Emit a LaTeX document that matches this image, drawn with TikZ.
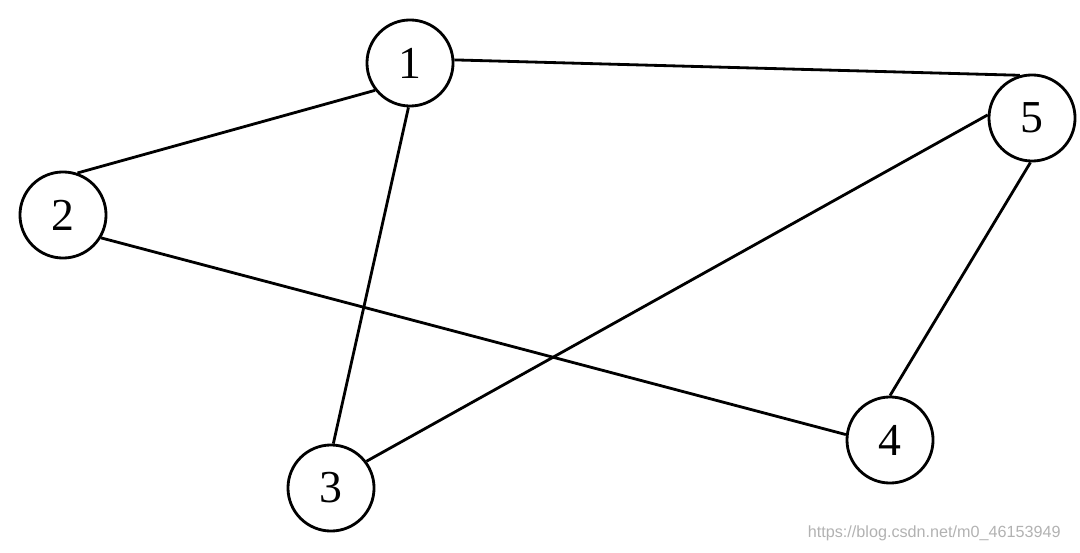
\documentclass[tikz,border=0pt]{standalone}
\usepackage{fontspec}
\setmainfont{Liberation Serif}
\newfontfamily\wmfont{Liberation Sans}
\begin{document}
\begin{tikzpicture}[x=0.01cm,y=-0.01cm,
  vert/.style={circle,draw,line width=0.8pt,minimum size=0.86cm,inner sep=0pt,font=\fontsize{13}{13}\selectfont},
  edge/.style={line width=0.8pt}]
\useasboundingbox (0,0) rectangle (1080,552);
\node[vert] (n1) at (410,63) {1};
\node[vert] (n2) at (63,215) {2};
\node[vert] (n3) at (331,488) {3};
\node[vert] (n4) at (890,440) {4};
\node[vert] (n5) at (1032,118) {5};
\draw[edge] (n1.218) -- (n2.71);
\draw[edge] (n1.268) -- (n3.87);
\draw[edge] (n1.4) -- (n5.106);
\draw[edge] (n2.329) -- (n4.173);
\draw[edge] (n3.37) -- (n5.176);
\draw[edge] (n4.90) -- (n5.268);
\node[text=black!30,font=\wmfont\fontsize{4.6}{5}\selectfont,anchor=east] (wm) at (1073,533) {https://blog.csdn.net/m0\_46153949};
\end{tikzpicture}
\end{document}
